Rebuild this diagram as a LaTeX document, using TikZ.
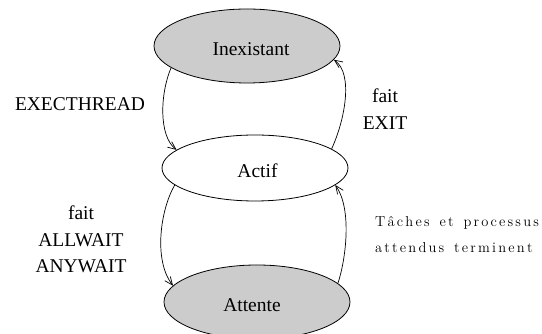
\documentclass[tikz,border=0pt]{standalone}
\usepackage{fontspec}
\newfontfamily\tnr{Liberation Serif}
\usetikzlibrary{shapes.geometric,arrows.meta}
\definecolor{stategray}{HTML}{CCCCCC}
\makeatletter
\newcommand\spw[1]{\@tfor\spw@c:=#1\do{\spw@c\kern2.2pt}}
\makeatother
\newcommand\spsp{\hspace{3pt}\ }
\tikzset{
  state/.style={ellipse, draw=black, line width=0.8pt, minimum width=186pt,
    inner sep=0pt, text height=20pt, text depth=0pt,
    font=\tnr\fontsize{19.5}{27}\selectfont},
  lbl/.style={inner sep=0pt, align=center, font=\tnr\fontsize{19.5}{26.5}\selectfont},
  spaced/.style={inner sep=0pt, align=left,
    font=\rmfamily\fontsize{14.5}{26}\selectfont},
  trans/.style={draw=black, line width=0.7pt, -{Straight Barb[length=8pt,width=7pt]}}
}
\begin{document}
\begin{tikzpicture}[x=1pt,y=1pt]
\useasboundingbox (0,0) rectangle (542,334);
\clip (0,0) rectangle (542,334);
\node[state, fill=stategray, minimum height=74pt] (inex) at (247,288) {\hspace*{8pt}Inexistant};
\node[state, fill=white, minimum height=66pt] (actif) at (255,166) {\hspace*{5pt}Actif};
\node[state, fill=stategray, minimum height=74pt] (att) at (257,32) {Attente\hspace*{10pt}};

\draw[trans] (inex.196) .. controls +(-11,-26) and +(-18,14) .. (actif.167);
\draw[trans] (actif.14) .. controls +(13,28) and +(20,-14) .. (inex.-9);
\draw[trans] (actif.192) .. controls +(-14,-24) and +(-20,26) .. (att.169);
\draw[trans] (att.13) .. controls +(8,24) and +(17,-24) .. (actif.-12);

\node[lbl, anchor=base] (lexec) at (80,223) {EXECTHREAD};
\node[lbl] (lwait) at (81,94.5) {fait\\ALLWAIT\\ANYWAIT};
\node[lbl] (lexit) at (385,225) {fait\\EXIT};
\node[spaced, anchor=west] (lfin) at (375,99) {\spw{Tâches}\spsp\spw{et}\spsp\spw{processus}\\\spw{attendus}\spsp\spw{terminent}};
\end{tikzpicture}
\end{document}
